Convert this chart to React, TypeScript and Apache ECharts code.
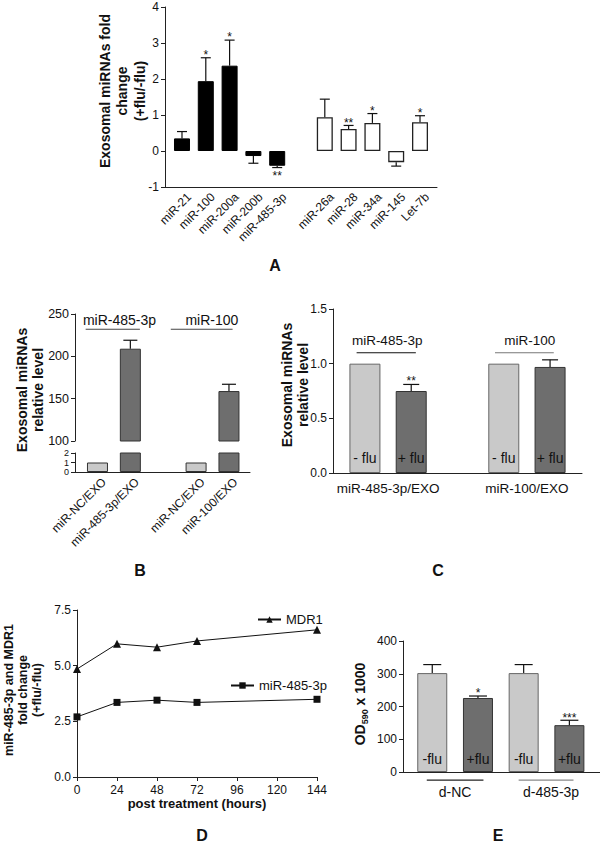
import React, { useEffect, useRef } from 'react';
import * as echarts from 'echarts';

const FONT = '"Liberation Sans", Arial, Helvetica, sans-serif';
const INK = '#111111';
const AXIS = '#222222';
const LIGHT = '#c9c9c9';
const DARK = '#6e6e6e';

// ---------- Panel A ----------
const aLabels = ['miR-21', 'miR-100', 'miR-200a', 'miR-200b', 'miR-485-3p', 'miR-26a', 'miR-28', 'miR-34a', 'miR-145', 'Let-7b'];
const aGroupOf = [0, 0, 0, 0, 0, 1, 1, 1, 1, 1];
const aValues = [0.35, 1.94, 2.37, -0.14, -0.41, 0.94, 0.61, 0.78, -0.31, 0.80];
const aErrors = [0.19, 0.65, 0.71, 0.20, 0.05, 0.50, 0.10, 0.26, 0.11, 0.18];
const aStars = ['', '*', '*', '', '**', '', '**', '*', '', '*'];

// ---------- Panel B ----------
const bLabels = ['miR-NC/EXO', 'miR-485-3p/EXO', 'miR-NC/EXO', 'miR-100/EXO'];
const bGroupOf = [0, 0, 1, 1];
const bValues = [1, 209, 1, 159];
const bErrors = [0, 10, 0, 8];
const bGroupNames = ['miR-485-3p', 'miR-100'];
const bLowTicks = [0, 1, 2];

// ---------- Panel C ----------
const cGroupLabels = ['miR-485-3p/EXO', 'miR-100/EXO'];
const cBarText = ['- flu', '+ flu', '- flu', '+ flu'];
const cValues = [1.0, 0.75, 1.0, 0.97];
const cErrors = [0, 0.06, 0, 0.065];
const cStars = ['', '**', '', ''];
const cGroupNames = ['miR-485-3p', 'miR-100'];

// ---------- Panel D ----------
const dHours = [0, 24, 48, 72, 144];
const dMDR1 = [4.85, 5.98, 5.83, 6.11, 6.61];
const dMiR485 = [2.70, 3.35, 3.45, 3.35, 3.49];

// ---------- Panel E ----------
const eGroupLabels = ['d-NC', 'd-485-3p'];
const eBarText = ['-flu', '+flu', '-flu', '+flu'];
const eValues = [302, 226, 302, 143];
const eErrors = [26, 6, 26, 15];
const eStars = ['', '*', '', '***'];

const aSlot = aValues.map((_, i) => i + aGroupOf[i]);
const bSlot = bValues.map((_, i) => i + bGroupOf[i]);
const cSlot = cValues.map((_, i) => i + Math.floor(i / 2));
const eSlot = eValues.map((_, i) => i);

const B_XMIN = -0.684;
const B_XMAX = 4.64;

const axisLine = { show: true, onZero: false, lineStyle: { color: AXIS, width: 1 } };

function yAx(gridIndex: number, min: number, max: number, interval: number, fontSize = 12, formatter?: any, margin = 6, showLabel = true) {
  return {
    type: 'value', gridIndex, min, max, interval,
    axisLine,
    axisTick: { show: true, length: 4, lineStyle: { color: AXIS } },
    axisLabel: { show: showLabel, color: INK, fontFamily: FONT, fontSize, margin, formatter, showMinLabel: true, showMaxLabel: true, hideOverlap: false },
    splitLine: { show: false },
  };
}

function xAx(gridIndex: number, min: number, max: number, customValues: number[], formatter: any, rotate: number, fontSize: number, margin: number) {
  return {
    type: 'value', gridIndex, min, max,
    axisLine,
    axisTick: { show: false },
    splitLine: { show: false },
    axisLabel: { customValues, formatter, rotate, fontSize, margin, color: INK, fontFamily: FONT, hideOverlap: false },
  };
}

function errorBars(idx: number, xs: number[], vals: number[], errs: number[], stars: string[], capHalf: number, starSize: number, starUp: number, starDown: number) {
  return {
    type: 'custom', xAxisIndex: idx, yAxisIndex: idx, z: 4, silent: true, clip: false,
    data: xs.map((x, i) => [x, vals[i], errs[i]]),
    renderItem: (params: any, api: any) => {
      const i = params.dataIndex;
      const x = api.value(0), v = api.value(1), e = api.value(2);
      const dir = v < 0 ? -1 : 1;
      const base = api.coord([x, v]);
      const tip = api.coord([x, v + dir * e]);
      const st = { stroke: INK, lineWidth: 1.2 };
      const children: any[] = [];
      if (e > 0) {
        children.push({ type: 'line', shape: { x1: base[0], y1: base[1], x2: tip[0], y2: tip[1] }, style: st });
        children.push({ type: 'line', shape: { x1: tip[0] - capHalf, y1: tip[1], x2: tip[0] + capHalf, y2: tip[1] }, style: st });
      }
      if (stars[i]) {
        children.push({
          type: 'text', x: tip[0], y: tip[1] + (dir > 0 ? -starUp : starDown),
          style: { text: stars[i], fontSize: starSize, fontFamily: FONT, fill: INK, align: 'center', verticalAlign: 'middle', textAlign: 'center', textVerticalAlign: 'middle' },
        });
      }
      return { type: 'group', children };
    },
  };
}

// group annotation: line + name, spans given in slot units
function groupMarks(idx: number, names: string[], spans: number[][], textX: number[], lineY: number, textY: number | null, colors: string[], fontSize: number) {
  return {
    type: 'custom', xAxisIndex: idx, yAxisIndex: idx, z: 4, silent: true, clip: false,
    data: names.map((_, g) => [textX[g], lineY]),
    renderItem: (params: any, api: any) => {
      const g = params.dataIndex;
      const p0 = api.coord([spans[g][0], lineY]);
      const p1 = api.coord([spans[g][1], lineY]);
      const children: any[] = [
        { type: 'line', shape: { x1: p0[0], y1: p0[1], x2: p1[0], y2: p1[1] }, style: { stroke: colors[g], lineWidth: 1.2 } },
      ];
      if (textY !== null) {
        const t = api.coord([textX[g], textY]);
        children.push({ type: 'text', x: t[0], y: t[1], style: { text: names[g], fontSize, fontFamily: FONT, fill: INK, align: 'center', verticalAlign: 'middle', textAlign: 'center', textVerticalAlign: 'middle' } });
      }
      return { type: 'group', children };
    },
  };
}

function rotTitle(text: string, x: number, y: number, fontSize: number, lineHeight: number) {
  return {
    type: 'text', x, y, rotation: Math.PI / 2,
    style: { text, fontSize, fontWeight: 'bold', fontFamily: FONT, lineHeight, fill: INK, align: 'center', verticalAlign: 'middle', textAlign: 'center', textVerticalAlign: 'middle' },
  };
}

function panelLetter(text: string, x: number, y: number) {
  return {
    type: 'text', x, y,
    style: { text, fontSize: 16, fontWeight: 'bold', fontFamily: FONT, fill: INK, align: 'center', verticalAlign: 'middle', textAlign: 'center', textVerticalAlign: 'middle' },
  };
}

const option: any = {
  animation: false,
  backgroundColor: '#ffffff',
  textStyle: { fontFamily: FONT },
  grid: [
    { left: 165, top: 7, width: 272, height: 180, outerBoundsMode: 'none' },
    { left: 75, top: 314, width: 175, height: 127, outerBoundsMode: 'none' },
    { left: 75, top: 453, width: 175, height: 19, outerBoundsMode: 'none' },
    { left: 333, top: 309, width: 249, height: 164, outerBoundsMode: 'none' },
    { left: 77, top: 610, width: 240, height: 167, outerBoundsMode: 'none' },
    { left: 403, top: 641, width: 197, height: 131, outerBoundsMode: 'none' },
  ],
  xAxis: [
    xAx(0, -0.714, 10.714, aSlot.map((s) => s + 0.3), (v: number) => aLabels[aSlot.indexOf(Math.round(v - 0.3))] ?? '', 45, 12, 8),
    { type: 'value', gridIndex: 1, min: B_XMIN, max: B_XMAX, show: false },
    xAx(2, B_XMIN, B_XMAX, bSlot.map((s) => s + 0.2), (v: number) => bLabels[bSlot.indexOf(Math.round(v - 0.2))] ?? '', 45, 12, 8),
    xAx(3, -0.69, 4.69, [0.5, 3.5], (v: number) => cGroupLabels[v < 2 ? 0 : 1], 0, 13.5, 8),
    {
      type: 'value', gridIndex: 4, min: 0, max: 144, interval: 24,
      axisLine,
      axisTick: { show: true, length: 4, lineStyle: { color: AXIS } },
      axisLabel: { color: INK, fontFamily: FONT, fontSize: 12, margin: 7 },
      splitLine: { show: false },
      name: 'post treatment (hours)', nameLocation: 'middle', nameGap: 20,
      nameTextStyle: { fontSize: 13, fontWeight: 'bold', fontFamily: FONT, color: INK, verticalAlign: 'top' },
    },
    xAx(5, -0.64, 3.67, [0.5, 2.6], (v: number) => eGroupLabels[v < 1.5 ? 0 : 1], 0, 14, 13),
  ],
  yAxis: [
    yAx(0, -1, 4, 1),
    yAx(1, 100, 250, 50, 12.5),
    yAx(2, 0, 2, 1, 11, undefined, 6, false),
    yAx(3, 0, 1.5, 0.5, 12, (v: number) => v.toFixed(1)),
    yAx(4, 0, 7.5, 2.5, 12, (v: number) => v.toFixed(1)),
    yAx(5, 0, 400, 100, 12),
  ],
  legend: [
    { data: ['MDR1'], left: 257, top: 613, itemWidth: 23, itemHeight: 8, padding: 0, selectedMode: false, textStyle: { fontSize: 13, fontFamily: FONT, color: INK } },
    { data: ['miR-485-3p'], left: 230, top: 679, itemWidth: 23, itemHeight: 8, padding: 0, selectedMode: false, textStyle: { fontSize: 13, fontFamily: FONT, color: INK } },
  ],
  series: [
    // Panel A
    {
      type: 'bar', xAxisIndex: 0, yAxisIndex: 0, barWidth: 16,
      data: aValues.map((v, i) => ({
        value: [aSlot[i], v],
        itemStyle: aGroupOf[i] === 0 ? { color: '#000', borderColor: '#000', borderWidth: 1 } : { color: '#fff', borderColor: '#222', borderWidth: 1.3 },
      })),
    },
    errorBars(0, aSlot, aValues, aErrors, aStars, 5, 12, 2.7, 8.4),
    // Panel B upper
    {
      type: 'bar', xAxisIndex: 1, yAxisIndex: 1, barWidth: 21,
      data: bValues.map((v, i) => ({
        value: [bSlot[i], v >= 100 ? v : null],
        itemStyle: { color: i % 2 ? DARK : LIGHT, borderColor: '#333', borderWidth: 1 },
      })),
    },
    errorBars(1, bSlot, bValues, bErrors, ['', '', '', ''], 7, 12, 2.7, 8.4),
    groupMarks(1, bGroupNames, [[-0.36, 1.29], [2.23, 4.11]], [0.67, 3.48], 232, 243, ['#444', '#444'], 14),
    // Panel B lower
    {
      type: 'bar', xAxisIndex: 2, yAxisIndex: 2, barWidth: 21,
      data: bValues.map((v, i) => ({
        value: [bSlot[i], v],
        itemStyle: { color: i % 2 ? DARK : LIGHT, borderColor: '#333', borderWidth: 1 },
      })),
    },
    {
      // compressed tick labels of the broken (lower) axis segment
      type: 'custom', xAxisIndex: 2, yAxisIndex: 2, z: 4, silent: true, clip: false,
      data: bLowTicks.map((t) => [B_XMIN, t]),
      renderItem: (params: any, api: any) => {
        const p = api.coord([api.value(0), api.value(1)]);
        return {
          type: 'text', x: p[0] - 6, y: p[1],
          style: { text: String(bLowTicks[params.dataIndex]), fontSize: 9, lineHeight: 9, fontFamily: FONT, fill: INK, align: 'right', verticalAlign: 'middle', textAlign: 'right', textVerticalAlign: 'middle' },
        };
      },
    },
    // Panel C
    {
      type: 'bar', xAxisIndex: 3, yAxisIndex: 3, barWidth: 31,
      data: cValues.map((v, i) => ({
        value: [cSlot[i], v],
        itemStyle: { color: i % 2 ? DARK : LIGHT, borderColor: i % 2 ? '#333' : '#666', borderWidth: 1 },
        label: { show: true, position: 'insideBottom', distance: 8, formatter: cBarText[i], fontSize: 14, fontFamily: FONT, color: INK },
      })),
    },
    errorBars(3, cSlot, cValues, cErrors, cStars, 8, 12, 3.5, 8.4),
    groupMarks(3, cGroupNames, [[-0.18, 1.1], [2.81, 4.08]], [0.48, 3.56], 1.1, 1.21, ['#111', '#777'], 13.5),
    // Panel D
    {
      type: 'line', name: 'MDR1', xAxisIndex: 4, yAxisIndex: 4,
      data: dHours.map((h, i) => [h, dMDR1[i]]),
      symbol: 'triangle', symbolSize: 8,
      lineStyle: { color: INK, width: 1 }, itemStyle: { color: INK },
    },
    {
      type: 'line', name: 'miR-485-3p', xAxisIndex: 4, yAxisIndex: 4,
      data: dHours.map((h, i) => [h, dMiR485[i]]),
      symbol: 'rect', symbolSize: 7,
      lineStyle: { color: INK, width: 1 }, itemStyle: { color: INK },
    },
    // Panel E
    {
      type: 'bar', xAxisIndex: 5, yAxisIndex: 5, barWidth: 30,
      data: eValues.map((v, i) => ({
        value: [eSlot[i], v],
        itemStyle: { color: i % 2 ? DARK : LIGHT, borderColor: i % 2 ? '#333' : '#666', borderWidth: 1 },
        label: { show: true, position: 'insideBottom', distance: 6, formatter: eBarText[i], fontSize: 14, fontFamily: FONT, color: INK },
      })),
    },
    errorBars(5, eSlot, eValues, eErrors, eStars, 9, 12, 2.7, 8.4),
    groupMarks(5, eGroupLabels, [[-0.12, 1.12], [1.89, 3.09]], [0.5, 2.5], -25, null, ['#222', '#888'], 14),
  ],
  graphic: [
    rotTitle('Exosomal miRNAs fold\nchange\n(+flu/-flu)', 122, 91, 14, 17.5),
    rotTitle('Exosomal miRNAs\nrelative level', 30, 390, 14, 16),
    rotTitle('Exosomal miRNAs\nrelative level', 295, 385, 14, 16),
    rotTitle('miR-485-3p and MDR1\nfold change\n(+flu/-flu)', 23, 690, 12.5, 14),
    {
      type: 'text', x: 360, y: 704, rotation: Math.PI / 2,
      style: {
        text: '{a|OD}{s|590}{a| x 1000}',
        rich: {
          a: { fontSize: 14, fontWeight: 'bold', fontFamily: FONT, lineHeight: 18, verticalAlign: 'middle', fill: INK },
          s: { fontSize: 9, fontWeight: 'bold', fontFamily: FONT, lineHeight: 10, verticalAlign: 'bottom', fill: INK },
        },
        fill: INK, align: 'center', verticalAlign: 'middle', textAlign: 'center', textVerticalAlign: 'middle',
      },
    },
    panelLetter('A', 275, 265),
    panelLetter('B', 140, 570),
    panelLetter('C', 438, 570),
    panelLetter('D', 202, 835),
    panelLetter('E', 498, 835),
  ],
};

export default function App() {
  const ref = useRef<HTMLDivElement>(null);
  useEffect(() => {
    document.body.style.margin = '0';
    const chart = echarts.init(ref.current!, null, { renderer: 'svg', width: 600, height: 851 });
    chart.setOption(option);
    return () => chart.dispose();
  }, []);
  return <div ref={ref} style={{ position: 'absolute', left: 0, top: 0, width: 600, height: 851, background: '#fff' }} />;
}
